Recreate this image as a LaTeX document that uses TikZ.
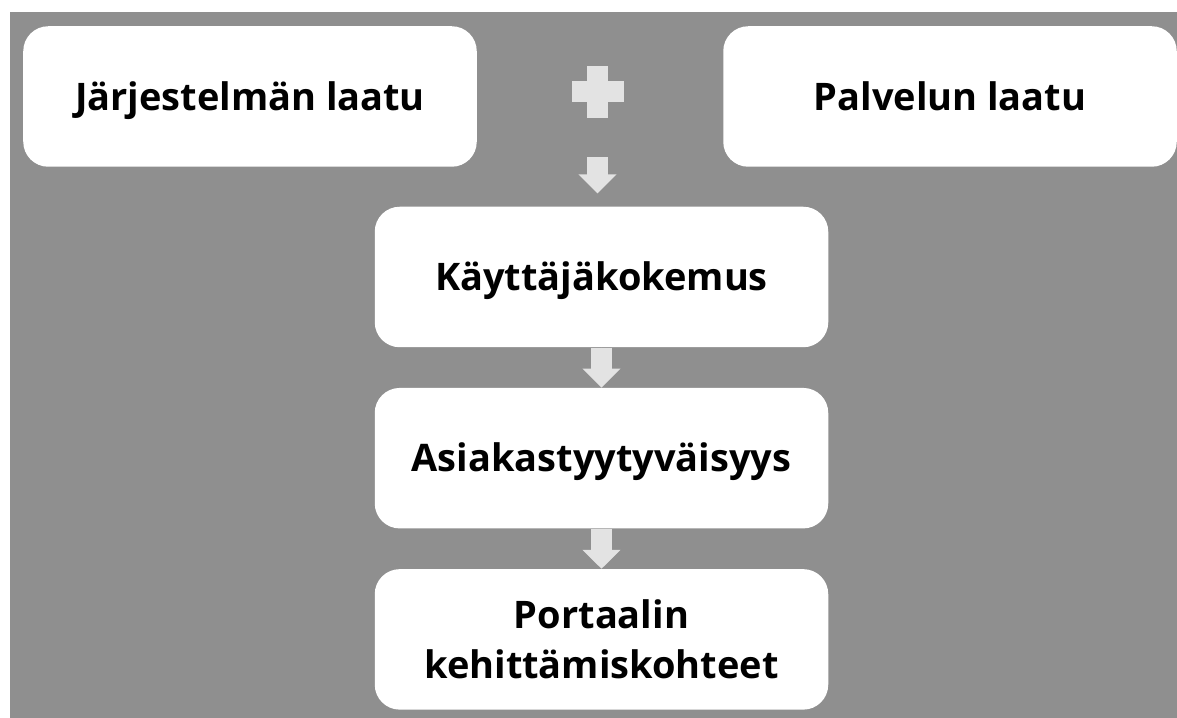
\documentclass[tikz,border=0pt]{standalone}
\usepackage{fontspec}
\setmainfont{Open Sans}
\usepackage{tikz}
\usetikzlibrary{arrows.meta}
\usetikzlibrary{calc,positioning}
\definecolor{bggray}{HTML}{8F8F8F}
\definecolor{arrowgray}{HTML}{E3E3E3}

\begin{document}
\begin{tikzpicture}[every node/.style={font=\fontsize{21.6}{28.5}\selectfont\bfseries, text=black},
    box/.style={fill=white, rounded corners=0.5cm, minimum width=9.07cm, minimum height=2.81cm, align=center, inner sep=0pt},
    oneline/.style={text height=15.4pt, text depth=0pt},
    blockarrow/.style={draw=arrowgray, fill=arrowgray, line width=0.42cm, -{Triangle[length=0.38cm, width=0.74cm]}}]
    \useasboundingbox (0,0) rectangle (23.54,14.36);
    \fill [bggray] (0.2,0) rectangle (23.54,14.12);
    \node [box, oneline] (jarjestelma) at (5.0,12.43) {Järjestelmän laatu};
    \node [box, oneline] (palvelu) at (19.0,12.43) {Palvelun laatu};
    \node [minimum size=1.04cm, inner sep=0pt] (plus) at (11.95,12.52) {};
    \fill [arrowgray] ($(plus.center)+(-0.21,-0.52)$) rectangle ++(0.42,1.04);
    \fill [arrowgray] ($(plus.center)+(-0.52,-0.21)$) rectangle ++(1.04,0.42);
    \node [box, oneline] (kokemus) at (12.03,8.82) {Käyttäjäkokemus};
    \node [box, oneline, below=0.8cm of kokemus] (tyytyvaisyys) {Asiakastyytyväisyys};
    \node [box, below=0.8cm of tyytyvaisyys] (kohteet) {Portaalin\\kehittämiskohteet};
    \draw [blockarrow] ($(plus.south)+(0,-0.78)$) -- ($(plus.south)+(0,-1.5)$);
    \draw [blockarrow] (kokemus.south) -- (tyytyvaisyys.north);
    \draw [blockarrow] (tyytyvaisyys.south) -- (kohteet.north);
\end{tikzpicture}
\end{document}
